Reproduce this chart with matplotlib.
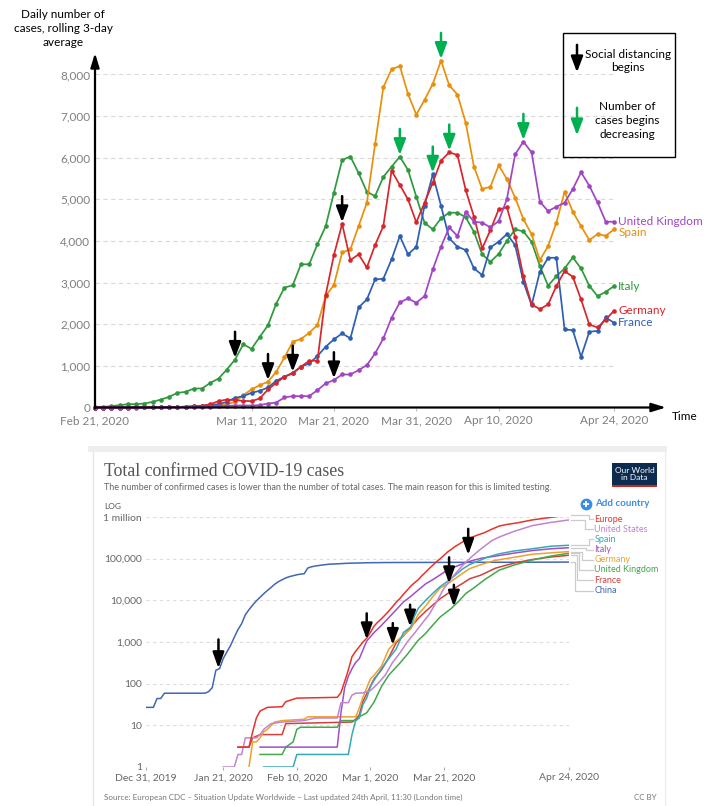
import numpy as np
import pandas as pd
import matplotlib
matplotlib.use('Agg')
import matplotlib.pyplot as plt
import matplotlib.dates as mdates
from matplotlib.patches import Rectangle
from matplotlib.lines import Line2D

plt.rcParams['font.family'] = ['Lato', 'DejaVu Sans']

# ---------------- top chart: daily cases, rolling 3-day average ----------------
daily_start = '2020-02-21'
italy_daily = [5, 16, 32, 56, 80, 80, 96, 136, 192, 256,
               352, 376, 456, 456, 592, 696, 912, 1152, 1520, 1408,
               1696, 1976, 2496, 2880, 2936, 3440, 3440, 3920, 4352, 5160,
               5945, 6030, 5630, 5180, 5080, 5540, 5785, 6025, 5705, 5065,
               4440, 4280, 4545, 4680, 4680, 4570, 4220, 3680, 3500, 3690,
               4005, 4280, 4230, 3980, 3400, 2925, 3155, 3340, 3605, 3340,
               2925, 2675, 2780, 2915]
spain_daily = [0, 0, 0, 0, 0, 1, 2, 4, 5, 8,
               12, 18, 22, 30, 40, 50, 80, 136, 297, 433,
               537, 618, 858, 1203, 1580, 1644, 1796, 1981, 2680, 2943,
               3726, 3798, 4359, 4920, 6330, 7692, 8125, 8205, 7532, 7035,
               7388, 7773, 8333, 7740, 7516, 6843, 5785, 5248, 5304, 5817,
               5488, 5040, 4527, 4158, 3541, 3878, 4439, 5184, 4703, 4359,
               4022, 4166, 4126, 4278]
germany_daily = [0, 0, 0, 0, 0, 1, 2, 3, 5, 8,
                 12, 20, 30, 40, 80, 152, 192, 176, 160, 152,
                 217, 433, 593, 738, 818, 978, 1123, 1123, 2703, 3662,
                 4410, 3542, 3678, 3365, 3902, 4359, 5689, 5345, 5000, 4447,
                 4920, 5401, 5929, 6130, 6066, 5224, 4583, 3822, 4262, 4759,
                 4807, 4102, 3156, 2475, 2363, 2475, 2916, 3277, 3140, 2595,
                 1994, 1922, 2114, 2323]
france_daily = [0, 0, 0, 0, 1, 1, 2, 3, 5, 8,
                12, 18, 25, 40, 55, 80, 136, 232, 273, 353,
                401, 481, 642, 738, 834, 978, 1059, 1235, 1460, 1636,
                1780, 1660, 2404, 2596, 3077, 3093, 3558, 4119, 3678, 3862,
                4848, 5601, 4848, 4063, 3862, 3782, 3341, 3181, 3846, 3982,
                4166, 3902, 3020, 2459, 3261, 3597, 3597, 1874, 1858, 1217,
                1818, 1842, 2163, 2035]
uk_daily = [0, 0, 0, 0, 0, 0, 1, 2, 3, 4,
            5, 8, 12, 15, 20, 30, 40, 48, 48, 48,
            56, 96, 120, 241, 273, 273, 273, 417, 577, 660,
            793, 793, 897, 1018, 1298, 1659, 2155, 2524, 2620, 2516,
            2676, 3317, 3862, 4327, 4119, 4704, 4463, 4440, 4327, 4479,
            5007, 6081, 6386, 6129, 4943, 4719, 4823, 4919, 5248, 5649,
            5328, 4927, 4463, 4463]

daily_ticks = ['2020-02-21', '2020-03-11', '2020-03-21', '2020-03-31', '2020-04-10', '2020-04-24']
daily_yticks = [0, 1000, 2000, 3000, 4000, 5000, 6000, 7000, 8000]

# black arrows: social distancing begins; green arrows: cases begin decreasing
distancing_country = ['Italy', 'Spain', 'Germany', 'United Kingdom', 'Germany']
distancing_dates = ['2020-03-09', '2020-03-13', '2020-03-16', '2020-03-21', '2020-03-22']
decrease_country = ['Italy', 'France', 'Spain', 'Germany', 'United Kingdom']
decrease_dates = ['2020-03-29', '2020-04-02', '2020-04-03', '2020-04-04', '2020-04-13']

# ---------------- bottom chart: total confirmed cases (log) ----------------
total_start = '2019-12-31'
china_days = [0, 2, 3, 4, 5, 16, 17, 18, 19, 20, 21, 22, 23, 24, 25, 26, 27, 28, 29, 30,
              31, 32, 33, 34, 35, 36, 37, 38, 39, 40, 41, 42, 43, 44, 45, 46, 47, 48,
              50, 52, 54, 56, 58, 60, 65, 70, 80, 90, 100, 115]
china_total = [27, 27, 44, 44, 59, 59, 64, 80, 210, 230, 400, 580, 830, 1300, 1980,
               2750, 4500, 5970, 7710, 9700, 11800, 14400, 17200, 20400, 24400,
               28000, 31200, 34500, 37000, 39000, 41000, 42500, 43500, 59800, 63900,
               66500, 68500, 70500, 74000, 75100, 77000, 78100, 78800, 79800,
               80700, 81000, 81400, 81900, 82000, 82800]
europe_days = [25, 28, 29, 30, 31, 33, 37, 38, 41, 52, 53, 54, 55, 56, 57, 58, 59, 60, 61,
               62, 63, 64, 65, 66, 67, 68, 69, 70, 71, 72, 73, 74, 75, 76, 77, 78, 79, 80, 81,
               82, 83, 84, 85, 86, 87, 88, 90, 92, 94, 96, 98, 101, 105, 110, 115]
europe_total = [3, 3, 7, 15, 22, 27, 28, 37, 45, 47, 61, 112, 213, 444, 600, 775, 1000, 1230, 1700,
                2400, 3000, 3600, 4450, 5500, 7000, 9000, 11000, 14000, 17500, 22000, 26500,
                31000, 39000, 47000, 58000, 70000, 85000, 100000, 120000, 145000, 167000,
                195000, 220000, 250000, 281000, 310000, 365000, 420000, 510000, 605000,
                660000, 725000, 850000, 980000, 1120000]
us_days = [21, 24, 25, 26, 27, 30, 31, 32, 34, 37, 43, 46, 52, 53, 55, 56, 57, 59, 61, 63,
           65, 67, 69, 71, 73, 75, 77, 79, 81, 83, 85, 87, 89, 91, 94, 96, 100, 105, 110, 115]
us_total = [1, 1, 2, 2, 5, 5, 6, 8, 11, 12, 13, 15, 15, 35, 35, 53, 59, 60, 68, 100,
            158, 319, 541, 994, 1630, 2770, 4600, 9200, 19400, 33600, 53700, 83800,
            121000, 170000, 270000, 330000, 450000, 620000, 740000, 850000]
italy_days = [31, 52, 53, 54, 55, 56, 57, 58, 59, 60, 62, 64, 66, 68, 70, 72, 74, 76, 78, 80,
              82, 84, 86, 88, 91, 95, 100, 105, 110, 115]
italy_total = [3, 3, 20, 79, 150, 229, 322, 400, 650, 1050, 1690, 2500, 3850, 5900, 9170,
               12460, 17660, 24750, 31500, 41000, 53600, 63900, 74400, 86500, 101700,
               115200, 135600, 156400, 172400, 183000]
spain_days = [32, 40, 41, 55, 56, 57, 58, 59, 60, 61, 62, 64, 66, 68, 70, 72, 73, 74, 76, 78,
              80, 82, 84, 86, 88, 90, 93, 96, 100, 105, 110, 115]
spain_total = [1, 1, 2, 2, 6, 13, 15, 32, 45, 84, 120, 228, 401, 674, 1695, 2300, 4200, 6391,
               9942, 14769, 21571, 28603, 39673, 56188, 72248, 85195, 110238, 130759,
               152446, 172541, 198674, 210000]
germany_days = [28, 29, 30, 31, 32, 33, 35, 37, 43, 44, 57, 58, 59, 60, 61, 62, 64, 66, 68, 70,
                72, 74, 76, 78, 80, 82, 84, 86, 88, 91, 95, 100, 105, 110, 115]
germany_total = [1, 4, 4, 5, 7, 8, 12, 13, 14, 16, 16, 26, 48, 79, 130, 159, 262, 670, 1040,
                 1457, 2078, 4585, 7272, 12327, 19848, 24873, 32986, 43938, 57695, 71808,
                 91159, 107663, 127854, 137698, 148000]
france_days = [25, 28, 29, 31, 37, 38, 56, 57, 58, 59, 60, 62, 64, 66, 68, 70, 72, 74, 76, 78,
               80, 82, 84, 86, 88, 91, 95, 100, 105, 110, 115]
france_total = [3, 3, 5, 6, 6, 11, 12, 14, 18, 38, 57, 130, 212, 423, 949, 1412, 2281, 3661,
                5423, 7730, 10995, 14459, 19856, 25233, 32964, 40174, 59105, 78167, 95403,
                109252, 120804]
uk_days = [31, 37, 38, 40, 41, 42, 52, 53, 57, 58, 60, 62, 64, 66, 69, 71, 74, 76, 78, 80,
           83, 85, 87, 89, 92, 96, 100, 105, 110, 115]
uk_total = [2, 2, 3, 4, 8, 9, 9, 13, 13, 16, 20, 36, 85, 160, 310, 500, 1100, 1600, 2560,
            4000, 6400, 9500, 14700, 19500, 31000, 53000, 70000, 93000, 115000, 135000]

total_ticks = ['2019-12-31', '2020-01-21', '2020-02-10', '2020-03-01', '2020-03-21', '2020-04-24']
total_yticks = [1, 10, 100, 1000, 10000, 100000, 1000000]
total_ylabels = ['1', '10', '100', '1,000', '10,000', '100,000', '1 million']

# lockdown arrows on the log chart (days since Dec 31, value at the tip)
lockdown_days = [19.7, 60, 67.1, 71.8, 82.4, 83.7, 87.6]
lockdown_values = [213, 1050, 770, 2130, 23200, 6400, 112000]

# ------------------------------------------------------------------------------
W, H = 709, 806


def fx(x):
    return x / W


def fy(y):
    return 1 - y / H


def down_arrow(ax, xy, color, coords='data', length=20, width=0.36):
    ax.annotate('', xy=xy, xycoords=coords, xytext=(0, length), textcoords='offset points',
                arrowprops=dict(arrowstyle='-|>,head_length=0.95,head_width=%s' % width,
                                color=color, lw=1.8, mutation_scale=10,
                                shrinkA=0, shrinkB=1.2),
                annotation_clip=False)


fig = plt.figure(figsize=(W / 100, H / 100), dpi=100)

# ======================= top chart =======================
ax1 = fig.add_axes([fx(95), fy(407.5), (614 - 95) / W, (407.5 - 74.5) / H])
dates = pd.date_range(daily_start, periods=len(italy_daily), freq='D')
top_series = {
    'United Kingdom': (uk_daily, '#a145c3', 0),
    'Spain': (spain_daily, '#e8900c', -2.5),
    'Italy': (italy_daily, '#2f9a3d', 0),
    'Germany': (germany_daily, '#d7262b', 0),
    'France': (france_daily, '#2d5fb3', 0),
}
for name in ['Italy', 'Spain', 'France', 'Germany', 'United Kingdom']:
    vals, col, dy = top_series[name]
    ax1.plot(dates, vals, color=col, lw=1.25, marker='o', ms=2.3, clip_on=False, zorder=3)
    ax1.annotate(name, xy=(dates[-1], vals[-1]), xytext=(3, dy), textcoords='offset points',
                 va='center', ha='left', color=col, fontsize=8.5, annotation_clip=False)

ax1.set_xlim(dates[0], dates[-1])
ax1.set_ylim(0, 8000)
for s in ax1.spines.values():
    s.set_visible(False)
ax1.set_yticks(daily_yticks)
ax1.set_yticklabels([f'{v:,}' for v in daily_yticks])
ax1.tick_params(axis='y', length=0, pad=3.5, labelcolor='#7f7f7f', labelsize=8.5)
tick_d = pd.to_datetime(daily_ticks)
ax1.set_xticks(tick_d)
ax1.set_xticklabels([d.strftime('%b %d, %Y') for d in tick_d])
ax1.tick_params(axis='x', length=2.5, width=0.8, color='#bfbfbf', pad=3,
                labelcolor='#7f7f7f', labelsize=8.5)
ax1.yaxis.grid(True, color='#d9d9d9', ls=(0, (4, 3)), lw=0.8)
ax1.set_axisbelow(True)

axis_kw = dict(arrowstyle='-|>,head_length=0.85,head_width=0.26', color='black', lw=1.6,
               mutation_scale=10, shrinkA=0, shrinkB=0)
ax1.annotate('', xy=(1.1002, 0), xycoords='axes fraction', xytext=(0, 0),
             textcoords='axes fraction', arrowprops=axis_kw, annotation_clip=False)
ax1.annotate('', xy=(0, 1.0646), xycoords='axes fraction', xytext=(0, -0.003),
             textcoords='axes fraction', arrowprops=axis_kw, annotation_clip=False)

for c, d in zip(distancing_country, distancing_dates):
    i = dates.get_loc(pd.Timestamp(d))
    down_arrow(ax1, (dates[i], top_series[c][0][i]), 'black')
for c, d in zip(decrease_country, decrease_dates):
    i = dates.get_loc(pd.Timestamp(d))
    down_arrow(ax1, (dates[i], top_series[c][0][i]), '#00b050')

fig.text(fx(63), fy(28.5), 'Daily number of\ncases, rolling 3-day\naverage', ha='center',
         va='center', fontsize=8.5, linespacing=1.3)
fig.text(fx(672), fy(416.5), 'Time', ha='left', va='center', fontsize=8.5)

# legend box
fig.add_artist(Rectangle((fx(563), fy(157)), (675 - 563) / W, (157 - 33) / H,
                         transform=fig.transFigure, fill=False, ec='black', lw=1))
down_arrow(ax1, (fx(577), fy(74)), 'black', coords='figure fraction', length=21)
down_arrow(ax1, (fx(577), fy(137)), '#00b050', coords='figure fraction', length=21)
fig.text(fx(628), fy(61), 'Social distancing\nbegins', ha='center', va='center',
         fontsize=8.5, linespacing=1.25)
fig.text(fx(627), fy(120.5), 'Number of\ncases begins\ndecreasing', ha='center', va='center',
         fontsize=8.5, linespacing=1.3)

# ======================= bottom chart =======================
fig.add_artist(Rectangle((fx(88), fy(452)), (667 - 88) / W, 6 / H,
                         transform=fig.transFigure, fc='#eeeeee', ec='none', zorder=0))
fig.add_artist(Line2D([fx(92.5), fx(92.5)], [fy(452), fy(806)], transform=fig.transFigure,
                      color='#e6e6e6', lw=1))
fig.add_artist(Line2D([fx(665), fx(665)], [fy(452), fy(806)], transform=fig.transFigure,
                      color='#eeeeee', lw=1))

fig.text(fx(104), fy(471.5), 'Total confirmed COVID-19 cases', family='Liberation Serif',
         fontsize=12.8, color='#555555', va='center', ha='left')
fig.text(fx(104), fy(487), 'The number of confirmed cases is lower than the number of total '
         'cases. The main reason for this is limited testing.', fontsize=6.5,
         color='#666666', va='center', ha='left')

# Our World in Data logo
fig.add_artist(Rectangle((fx(612.3), fy(485)), (656.7 - 612.3) / W, (485 - 462.7) / H,
                         transform=fig.transFigure, fc='#0d2a4f', ec='none'))
fig.add_artist(Rectangle((fx(612.3), fy(487.3)), (656.7 - 612.3) / W, 2.3 / H,
                         transform=fig.transFigure, fc='#ce261e', ec='none'))
fig.text(fx(634.5), fy(473.8), 'Our World\nin Data', color='white', fontsize=6,
         ha='center', va='center', linespacing=1.0)

# add country
fig.add_artist(Line2D([fx(586)], [fy(504)], marker='o', ms=7.5, color='#3b8de4',
                      transform=fig.transFigure))
fig.add_artist(Line2D([fx(586)], [fy(504)], marker='+', ms=5, mew=1.3, color='white',
                      transform=fig.transFigure))
fig.text(fx(595), fy(504), 'Add country', color='#3b8de4', fontsize=7, fontweight='bold',
         va='center', ha='left')

ax2 = fig.add_axes([fx(146), fy(767), (569 - 146) / W, (767 - 517) / H])
base = pd.Timestamp(total_start)
total_series = [
    ('Europe', europe_days, europe_total, '#e8332a'),
    ('United States', us_days, us_total, '#c183d2'),
    ('Spain', spain_days, spain_total, '#39a8b6'),
    ('Italy', italy_days, italy_total, '#a24fc0'),
    ('Germany', germany_days, germany_total, '#eea02e'),
    ('United Kingdom', uk_days, uk_total, '#43a84a'),
    ('France', france_days, france_total, '#d2403a'),
    ('China', china_days, china_total, '#3f67b3'),
]
for name, dd, vv, col in reversed(total_series):
    ax2.plot(base + pd.to_timedelta(dd, unit='D'), vv, color=col, lw=1.1, zorder=3)

ax2.set_yscale('log')
ax2.set_ylim(1, 1e6)
ax2.set_xlim(base, pd.Timestamp('2020-04-24'))
for s in ax2.spines.values():
    s.set_visible(False)
ax2.set_yticks(total_yticks)
ax2.set_yticklabels(total_ylabels)
ax2.yaxis.set_minor_locator(matplotlib.ticker.NullLocator())
ax2.tick_params(axis='y', length=0, pad=3, labelcolor='#666666', labelsize=7.5)
tick_t = pd.to_datetime(total_ticks)
ax2.set_xticks(tick_t)
ax2.set_xticklabels([f'{d.strftime("%b")} {d.day}, {d.year}' for d in tick_t])
ax2.tick_params(axis='x', length=2.5, width=0.8, color='#aaaaaa', pad=2,
                labelcolor='#666666', labelsize=7.5)
ax2.yaxis.grid(True, color='#dddddd', ls=(0, (3, 3)), lw=0.8)
ax2.set_axisbelow(True)

for d, v, ln in zip(lockdown_days, lockdown_values, [22, 20, 17, 17, 20, 17, 20]):
    down_arrow(ax2, (mdates.date2num(base + pd.Timedelta(days=d)), v), 'black',
               length=ln, width=0.34)

fig.text(fx(104), fy(506), 'LOG', fontsize=6, color='#555555', va='center', ha='left')

# end labels with connectors
label_y = [519.3, 529.3, 539.3, 549.5, 560, 570, 580.3, 590.7]
bend_x = [589.3, 585, 589.3, 586, 581.7, 579.3, 577.3, 575]
to_fig = fig.transFigure.inverted()
for (name, dd, vv, col), ly, bx in zip(total_series, label_y, bend_x):
    end = base + pd.Timedelta(days=dd[-1])
    ex, ey = to_fig.transform(ax2.transData.transform((mdates.date2num(end), vv[-1])))
    fig.add_artist(Line2D([fx(571), fx(bx), fx(bx), fx(593)], [ey, ey, fy(ly), fy(ly)],
                          transform=fig.transFigure, color='#cccccc', lw=0.9))
    fig.text(fx(594.3), fy(ly), name, color=col, fontsize=6.5, va='center', ha='left')

fig.text(fx(103.5), fy(797.3), 'Source: European CDC \u2013 Situation Update Worldwide \u2013 '
         'Last updated 24th April, 11:30 (London time)', fontsize=5.75, color='#777777',
         va='center', ha='left')
fig.text(fx(656.7), fy(797.3), 'CC BY', fontsize=5.75, color='#777777', va='center', ha='right')

fig.savefig('out.png', dpi=100)
